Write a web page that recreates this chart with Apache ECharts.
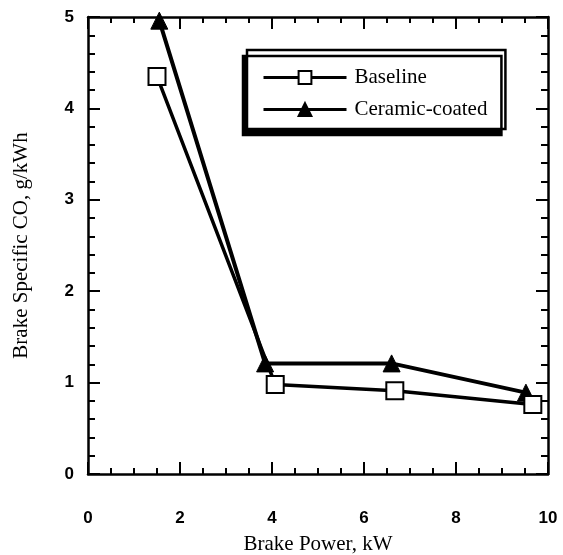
<!DOCTYPE html>
<html><head><meta charset="utf-8">
<script src="https://cdn.jsdelivr.net/npm/echarts@6/dist/echarts.min.js"></script>
<style>html,body{margin:0;padding:0;background:#fff}#c{width:563px;height:555px}</style>
</head><body><div id="c"></div>
<script>
const baselineX = [1.5, 4.07, 6.67, 9.67];
const baselineY = [4.35, 0.98, 0.91, 0.76];
const ceramicX = [1.55, 3.85, 6.6, 9.52];
const ceramicY = [4.96, 1.21, 1.21, 0.89];
const xTitle = 'Brake Power, kW';
const yTitle = 'Brake Specific CO, g/kWh';
const seriesNames = ['Baseline', 'Ceramic-coated'];

const chart = echarts.init(document.getElementById('c'));
const tickFont = {fontFamily: 'Liberation Sans', fontSize: 17, color: '#000', fontWeight: 'bold'};
const titleFont = {fontFamily: 'Liberation Serif', fontSize: 21, color: '#000'};
function axisCommon(showLabel){
  return {
    axisLine:{show:true, onZero:false, lineStyle:{color:'#000', width:2.5}},
    axisTick:{show:true, inside:true, length:12, lineStyle:{color:'#000', width:2}},
    minorTick:{show:true, length:6, lineStyle:{color:'#000', width:2}},
    splitLine:{show:false},
    axisLabel:showLabel ? Object.assign({}, tickFont) : {show:false}
  };
}
chart.setOption({
  animation:false,
  backgroundColor:'#fff',
  grid:{left:88, right:15, top:17, bottom:81, containLabel:false, outerBoundsMode:'none'},
  legend:{
    data:seriesNames,
    orient:'vertical',
    left:247, top:50,
    padding:[17, 18, 9, 15],
    itemGap:11,
    itemWidth:83, itemHeight:16,
    lineStyle:{width:3},
    backgroundColor:'#fff',
    borderColor:'#000', borderWidth:2.5,
    shadowColor:'#000', shadowBlur:0, shadowOffsetX:-4, shadowOffsetY:6,
    textStyle:{fontFamily:'Liberation Serif', fontSize:21, color:'#000', padding:[0,0,0,3]}
  },
  xAxis:[
    Object.assign(axisCommon(true), {type:'value', min:0, max:10, interval:2, minorTick:{show:true, splitNumber:4, length:6, lineStyle:{color:'#000', width:2}},
      axisLabel:Object.assign({}, tickFont, {margin:36}),
      name:xTitle, nameLocation:'middle', nameGap:60, nameTextStyle:titleFont}),
    Object.assign(axisCommon(false), {type:'value', position:'top', min:0, max:10, interval:2, minorTick:{show:true, splitNumber:4, length:6, lineStyle:{color:'#000', width:2}}})
  ],
  yAxis:[
    Object.assign(axisCommon(true), {type:'value', min:0, max:5, interval:1, minorTick:{show:true, splitNumber:5, length:7, lineStyle:{color:'#000', width:2}},
      axisLabel:Object.assign({}, tickFont, {margin:14}),
      name:yTitle, nameLocation:'middle', nameGap:56, nameTextStyle:titleFont}),
    Object.assign(axisCommon(false), {type:'value', position:'right', min:0, max:5, interval:1, minorTick:{show:true, splitNumber:5, length:7, lineStyle:{color:'#000', width:2}}})
  ],
  series:[
    {name:seriesNames[0], type:'line', data:baselineX.map((x,i)=>[x, baselineY[i]]),
     symbol:'rect', symbolSize:17, lineStyle:{color:'#000', width:3.5},
     itemStyle:{color:'#fff', borderColor:'#000', borderWidth:2}, z:3},
    {name:seriesNames[1], type:'line', data:ceramicX.map((x,i)=>[x, ceramicY[i]]),
     symbol:'triangle', symbolSize:17, lineStyle:{color:'#000', width:4},
     itemStyle:{color:'#000', borderColor:'#000', borderWidth:1}, z:2}
  ]
});
</script></body></html>
